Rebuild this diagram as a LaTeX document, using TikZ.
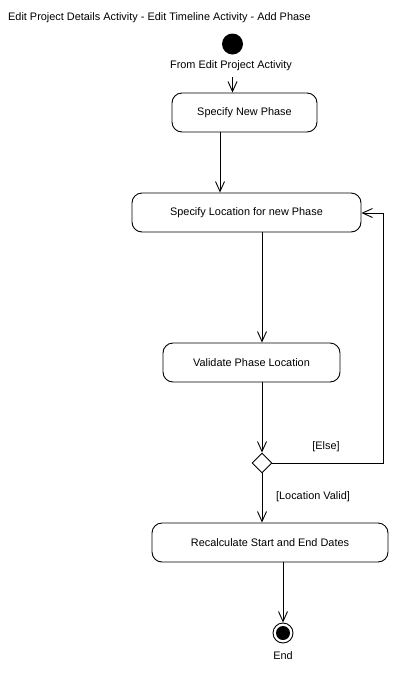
\documentclass[tikz,border=0pt]{standalone}
\usepackage{fontspec}
\setmainfont{Liberation Sans}
\usetikzlibrary{arrows.meta,shapes.geometric}
\begin{document}
\begin{tikzpicture}[x=1pt,y=-1pt,
  every node/.style={font=\fontsize{10.9}{12}\selectfont},
  act/.style={draw,line width=0.9pt,rounded corners=10pt,inner sep=0pt},
  arr/.style={line width=0.9pt,-{Straight Barb[length=10pt,width=9pt,line width=0.9pt]}},
  ln/.style={line width=0.9pt},
  lbl/.style={inner sep=0pt}]
\useasboundingbox (0,0) rectangle (400,673);
\node[lbl,anchor=west] (title) at (8,18) {Edit Project Details Activity - Edit Timeline Activity - Add Phase};
\node[circle,fill=black,inner sep=0pt,minimum size=21pt] (start) at (232.5,44) {};
\node[lbl] (fromlbl) at (231,66) {From Edit Project Activity};
\node[act,minimum width=145pt,minimum height=39pt] (b1) at (244.5,112.5) {Specify New Phase};
\node[act,minimum width=229pt,minimum height=39pt] (b2) at (246.5,212.5) {Specify Location for new Phase};
\node[act,minimum width=177pt,minimum height=39pt] (b3) at (251.5,362.5) {Validate Phase Location};
\node[diamond,draw,line width=0.9pt,inner sep=0pt,minimum width=20pt,minimum height=20pt] (dec) at (262,463) {};
\node[act,minimum width=236pt,minimum height=39pt] (b4) at (270,542.5) {Recalculate Start and End Dates};
\node[circle,draw,line width=0.9pt,inner sep=0pt,minimum size=20pt] (endo) at (283,633) {};
\node[circle,fill=black,inner sep=0pt,minimum size=14pt] (endi) at (283,633) {};
\node[lbl] (endlbl) at (283,656) {End};
\node[lbl] (elsel) at (326,447) {[Else]};
\node[lbl] (validl) at (313,497) {[Location Valid]};
\coordinate (c1) at (383,463);
\coordinate (c2) at (383,213);
\draw[arr] (fromlbl.south -| start) ++(0,6) -- (b1.north -| start);
\draw[arr] (b1.south -| 220,0) -- (b2.north -| 220,0);
\draw[arr] (b2.south -| 262,0) -- (b3.north -| 262,0);
\draw[arr] (b3.south -| dec) -- (dec.north);
\draw[ln] (dec.east) -- (c1) -- (c2);
\draw[arr] (c2) -- (b2.east |- c2);
\draw[arr] (dec.south) -- (b4.north -| dec);
\draw[arr] (b4.south -| endo) -- (endo.north);
\end{tikzpicture}
\end{document}
